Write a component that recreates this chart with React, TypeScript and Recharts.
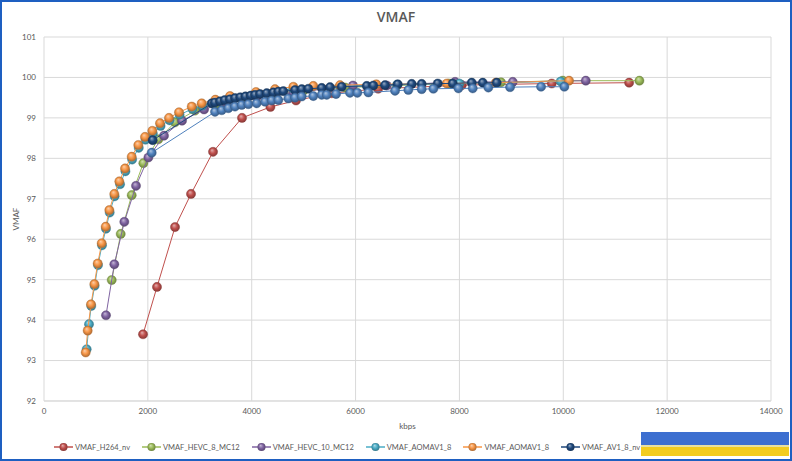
import React from 'react';
import { ScatterChart, Scatter, XAxis, YAxis, CartesianGrid } from 'recharts';

// ---- data: [kbps, VMAF] ----
const h264Nv: number[][] = [
  [1907, 93.65], [2176, 94.82], [2523, 96.3], [2831, 97.12], [3255, 98.16], [3813, 99.0],
  [4360, 99.27], [4853, 99.43], [5540, 99.61], [6435, 99.72], [8045, 99.81], [9778, 99.85], [11268, 99.87],
];
const hevc8Mc12: number[][] = [
  [1304, 94.99], [1477, 96.13], [1689, 97.09], [1913, 97.88], [2202, 98.47], [2523, 98.89], [2908, 99.18],
  [3300, 99.33], [3800, 99.48], [4400, 99.6], [5000, 99.68], [5800, 99.75], [6800, 99.8], [7800, 99.85],
  [8800, 99.88], [9990, 99.92], [11466, 99.92],
];
const hevc10Mc12: number[][] = [
  [1194, 94.12], [1354, 95.38], [1547, 96.43], [1772, 97.32], [2010, 98.02], [2311, 98.56], [2658, 98.93],
  [3082, 99.21], [3500, 99.38], [4100, 99.52], [4800, 99.62], [5950, 99.8], [6600, 99.8], [7916, 99.89],
  [9027, 99.89], [10433, 99.92],
];
const aomav1Cyan: number[][] = [
  [822, 93.28], [867, 93.9], [910, 94.35], [975, 94.85], [1040, 95.36], [1117, 95.85], [1194, 96.26],
  [1265, 96.66], [1360, 97.06], [1465, 97.36], [1568, 97.68], [1697, 97.97], [1825, 98.26], [1955, 98.46],
  [2096, 98.61], [2245, 98.8], [2418, 98.94], [2612, 99.08], [2858, 99.22], [3050, 99.3], [3600, 99.5],
  [4100, 99.6], [4800, 99.72], [5700, 99.78], [6800, 99.82], [8000, 99.85], [9950, 99.9],
];
const aomav1Orange: number[][] = [
  [803, 93.2], [841, 93.74], [905, 94.39], [970, 94.89], [1034, 95.4], [1111, 95.9], [1188, 96.31],
  [1258, 96.72], [1354, 97.12], [1450, 97.43], [1560, 97.75], [1689, 98.04], [1816, 98.33], [1945, 98.53],
  [2086, 98.68], [2234, 98.87], [2407, 99.0], [2600, 99.14], [2845, 99.28], [3037, 99.36], [3300, 99.45],
  [3582, 99.54], [4083, 99.64], [4449, 99.71], [4802, 99.77], [5186, 99.79], [5700, 99.81], [6400, 99.83],
  [7756, 99.85], [8700, 99.87], [10111, 99.92],
];
const av1Nv: number[][] = [
  [2093, 98.45], [3229, 99.36], [3290, 99.38], [3390, 99.41], [3480, 99.44], [3580, 99.46], [3680, 99.49],
  [3780, 99.51], [3880, 99.53], [3980, 99.55], [4064, 99.57], [4160, 99.59], [4289, 99.61], [4417, 99.63],
  [4513, 99.65], [4609, 99.66], [4834, 99.69], [4963, 99.71], [5091, 99.72], [5348, 99.74], [5508, 99.76],
  [5733, 99.77], [6215, 99.79], [6342, 99.8], [6567, 99.81], [6812, 99.83], [7081, 99.84], [7273, 99.84],
  [7582, 99.85], [7871, 99.85], [8237, 99.87], [8449, 99.87], [8718, 99.87],
];
const av1Blue: number[][] = [
  [2074, 98.14], [3293, 99.15], [3422, 99.19], [3550, 99.24], [3678, 99.28], [3807, 99.32], [3935, 99.34],
  [4096, 99.36], [4256, 99.4], [4385, 99.43], [4513, 99.44], [4705, 99.48], [4834, 99.5], [4963, 99.53],
  [5186, 99.54], [5348, 99.57], [5444, 99.57], [5624, 99.59], [5893, 99.62], [6034, 99.62], [6246, 99.63],
  [6760, 99.67], [7016, 99.69], [7273, 99.71], [7498, 99.72], [7980, 99.73], [8256, 99.73], [8557, 99.75],
  [8975, 99.76], [9572, 99.77], [10021, 99.77],
];

const seriesNames = ['VMAF_H264_nv', 'VMAF_HEVC_8_MC12', 'VMAF_HEVC_10_MC12', 'VMAF_AOMAV1_8', 'VMAF_AOMAV1_8', 'VMAF_AV1_8_nv', ''];
const seriesColors = ['#C0504D', '#9BBB59', '#8064A2', '#4BACC6', '#F79646', '#1F497D', '#4F81BD'];
const seriesData = [h264Nv, hevc8Mc12, hevc10Mc12, aomav1Cyan, aomav1Orange, av1Nv, av1Blue];
const legendCount = 6;

const xTicks = [0, 2000, 4000, 6000, 8000, 10000, 12000, 14000];
const yTicks = [92, 93, 94, 95, 96, 97, 98, 99, 100, 101];

const mix = (hex: string, target: number, t: number) => {
  const n = parseInt(hex.slice(1), 16);
  const ch = [(n >> 16) & 255, (n >> 8) & 255, n & 255].map((c) => Math.round(c + (target - c) * t));
  return '#' + ch.map((c) => c.toString(16).padStart(2, '0')).join('');
};

const font = 'Lato, "Open Sans", sans-serif';
const grey = '#595959';

const makeShape = (i: number) => (props: any) => {
  const { cx, cy } = props;
  if (cx == null || cy == null) return <g />;
  return <circle cx={cx} cy={cy} r={4.6} fill={`url(#sph${i})`} stroke={mix(seriesColors[i], 0, 0.25)} strokeWidth={0.4} />;
};

export default function App() {
  return (
    <div style={{ position: 'absolute', left: 0, top: 0, width: 792, height: 461, background: '#fff', fontFamily: font, overflow: 'hidden' }}>
      <svg width={0} height={0} style={{ position: 'absolute' }}>
        <defs>
          {seriesColors.map((c, i) => (
            <radialGradient key={i} id={`sph${i}`} cx="0.5" cy="0.5" r="0.55" fx="0.38" fy="0.3">
              <stop offset="0" stopColor={mix(c, 255, 0.55)} />
              <stop offset="0.5" stopColor={c} />
              <stop offset="1" stopColor={mix(c, 0, 0.35)} />
            </radialGradient>
          ))}
        </defs>
      </svg>
      <div style={{ position: 'absolute', left: 0, top: 7, width: 792, textAlign: 'center', fontFamily: '"Open Sans", sans-serif', fontWeight: 600, fontSize: 14, color: grey }}>
        VMAF
      </div>
      <div style={{ position: 'absolute', left: 0, top: 0 }}>
        <ScatterChart width={792} height={461} margin={{ top: 37, right: 21, bottom: 40, left: 14 }}>
          <CartesianGrid stroke="#D9D9D9" strokeWidth={1} />
          <XAxis
            type="number"
            dataKey="x"
            domain={[0, 14000]}
            ticks={xTicks}
            interval={0}
            height={20}
            tickLine={false}
            tickSize={5}
            tickMargin={2}
            axisLine={{ stroke: '#D9D9D9' }}
            tick={{ fontSize: 8, fill: grey, fontFamily: font }}
            allowDataOverflow
          />
          <YAxis
            type="number"
            dataKey="y"
            domain={[92, 101]}
            ticks={yTicks}
            interval={0}
            width={30}
            tickLine={false}
            axisLine={false}
            tick={{ fontSize: 8, fill: grey, fontFamily: font }}
            allowDataOverflow
          />
          {seriesData.map((d, i) => (
            <Scatter
              key={i}
              name={seriesNames[i] || `s${i}`}
              data={d.map(([x, y]) => ({ x, y }))}
              line={{ stroke: seriesColors[i], strokeWidth: 1 }}
              lineType="joint"
              shape={makeShape(i)}
              isAnimationActive={false}
            />
          ))}
        </ScatterChart>
      </div>
      <div style={{ position: 'absolute', left: 0, top: 421, width: 815, textAlign: 'center', fontSize: 8, color: grey }}>kbps</div>
      <div style={{ position: 'absolute', left: 16, top: 219, width: 0, height: 0 }}>
        <div style={{ position: 'absolute', transform: 'translate(-50%, -50%) rotate(-90deg)', fontSize: 8, color: grey, whiteSpace: 'nowrap' }}>VMAF</div>
      </div>
      <div style={{ position: 'absolute', left: 54, top: 441, height: 12, display: 'flex', alignItems: 'center', gap: 12 }}>
        {seriesNames.slice(0, legendCount).map((n, i) => (
          <div key={i} style={{ display: 'flex', alignItems: 'center' }}>
            <svg width={19} height={12}>
              <line x1={0} y1={6} x2={19} y2={6} stroke={seriesColors[i]} strokeWidth={1.5} />
              <circle cx={9.5} cy={6} r={4} fill={`url(#sph${i})`} />
            </svg>
            <span style={{ fontSize: 7.5, color: grey, marginLeft: 2, whiteSpace: 'nowrap' }}>{n}</span>
          </div>
        ))}
      </div>
      <div style={{ position: 'absolute', left: 641, top: 432, width: 148, height: 24, background: 'linear-gradient(#3D6FD0 0%, #3D6FD0 55%, #E8E0A0 55%, #E8E0A0 62%, #F2CC1F 62%, #F2CC1F 100%)' }} />
      <div style={{ position: 'absolute', left: 0, top: 0, width: 792, height: 461, boxSizing: 'border-box', border: '2px solid #1E5FC1', pointerEvents: 'none' }} />
    </div>
  );
}
